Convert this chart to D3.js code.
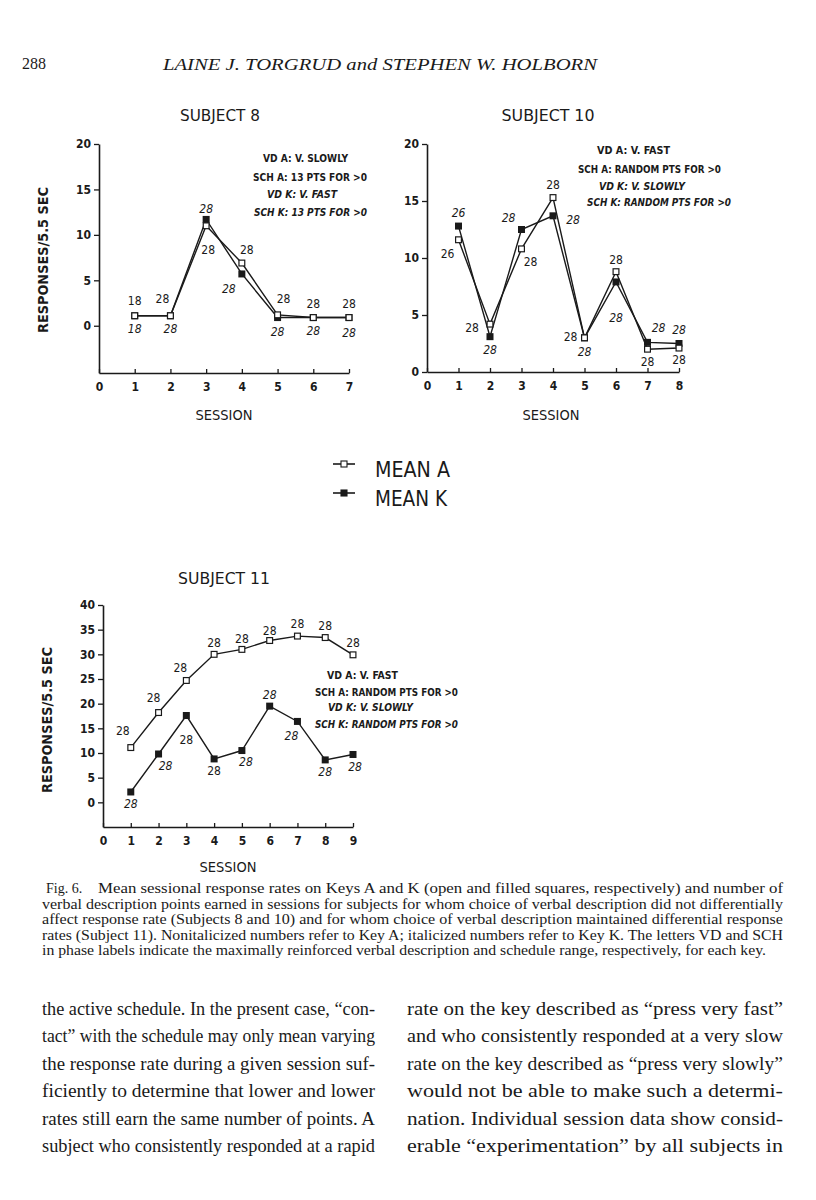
<!DOCTYPE html>
<html>
<head>
<meta charset="utf-8">
<script src="https://cdn.jsdelivr.net/npm/d3@7"></script>
<style>
body { margin: 0; background: #fff; }
</style>
</head>
<body>
<svg width="816" height="1200"></svg>
<script>
// ---- data ----
var s8_sessions = [1, 2, 3, 4, 5, 6, 7];
var s8_meanA = [1.1, 1.1, 11.0, 6.9, 1.2, 0.9, 0.9];
var s8_meanK = [1.1, 1.1, 11.7, 5.7, 0.9, 0.9, 0.9];
var s8_ptsA = ["18", "28", "28", "28", "28", "28", "28"];
var s8_ptsK = ["18", "28", "28", "28", "28", "28", "28"];
var s8_phase = ["VD A: V. SLOWLY", "SCH A: 13 PTS FOR >0", "VD K: V. FAST", "SCH K: 13 PTS FOR >0"];

var s10_sessions = [1, 2, 3, 4, 5, 6, 7, 8];
var s10_meanA = [11.6, 4.2, 10.8, 15.3, 3.0, 8.8, 2.0, 2.1];
var s10_meanK = [12.8, 3.1, 12.5, 13.7, 3.0, 7.9, 2.6, 2.5];
var s10_ptsA = ["26", "28", "28", "28", "28", "28", "28", "28"];
var s10_ptsK = ["26", "28", "28", "28", "28", "28", "28", "28"];
var s10_phase = ["VD A: V. FAST", "SCH A: RANDOM PTS FOR >0", "VD K: V. SLOWLY", "SCH K: RANDOM PTS FOR >0"];

var s11_sessions = [1, 2, 3, 4, 5, 6, 7, 8, 9];
var s11_meanA = [11.1, 18.2, 24.7, 30.0, 31.0, 32.8, 33.7, 33.4, 29.9];
var s11_meanK = [2.1, 9.8, 17.6, 8.8, 10.5, 19.5, 16.4, 8.6, 9.7];
var s11_ptsA = ["28", "28", "28", "28", "28", "28", "28", "28", "28"];
var s11_ptsK = ["28", "28", "28", "28", "28", "28", "28", "28", "28"];
var s11_kItalic = [true, true, false, false, true, true, true, true, true];
var s11_phase = ["VD A: V. FAST", "SCH A: RANDOM PTS FOR >0", "VD K: V. SLOWLY", "SCH K: RANDOM PTS FOR >0"];

var ticks20 = [0, 5, 10, 15, 20];
var ticks40 = [0, 5, 10, 15, 20, 25, 30, 35, 40];
var legendLabels = ["MEAN A", "MEAN K"];

// label placement (px from the marker), one per point
var s8_offA = [[0,-15],[-8,-17],[2,24],[5,-13],[6,-16],[0,-14],[0,-14]];
var s8_offK = [[0,13],[0,13],[0,-11],[-13,15],[0,14],[0,13],[0,15]];
var s10_offA = [[-11,14],[-18,4],[9,13],[0,-13],[-14,-1],[0,-12],[0,12],[0,12]];
var s10_offK = [[0,-13],[0,13],[-13,-12],[20,4],[0,14],[0,36],[11,-15],[0,-14]];
var s11_offA = [[-8,-17],[-5,-15],[-6,-13],[0,-12],[0,-11],[0,-10],[0,-12],[0,-12],[0,-12]];
var s11_offK = [[0,12],[7,12],[0,24],[0,12],[4,11],[0,-11],[-6,14],[0,12],[2,12]];

var captionLines = [
    "Mean sessional response rates on Keys A and K (open and filled squares, respectively) and number of",
    "verbal description points earned in sessions for subjects for whom choice of verbal description did not differentially",
    "affect response rate (Subjects 8 and 10) and for whom choice of verbal description maintained differential response",
    "rates (Subject 11). Nonitalicized numbers refer to Key A; italicized numbers refer to Key K. The letters VD and SCH",
    "in phase labels indicate the maximally reinforced verbal description and schedule range, respectively, for each key."
];
var leftColumn = [
    "the active schedule. In the present case, \u201Ccon-",
    "tact\u201D with the schedule may only mean varying",
    "the response rate during a given session suf-",
    "ficiently to determine that lower and lower",
    "rates still earn the same number of points. A",
    "subject who consistently responded at a rapid"
];
var rightColumn = [
    "rate on the key described as \u201Cpress very fast\u201D",
    "and who consistently responded at a very slow",
    "rate on the key described as \u201Cpress very slowly\u201D",
    "would not be able to make such a determi-",
    "nation. Individual session data show consid-",
    "erable \u201Cexperimentation\u201D by all subjects in"
];

var ink = "#1a1a1a";
var chartFont = "'DejaVu Sans Condensed', 'DejaVu Sans', sans-serif";
var serif = "'Liberation Serif', 'DejaVu Serif', serif";

var svg = d3.select("svg");

// ---- running head ----
svg.append("text").attr("x", 22).attr("y", 69)
    .style("font-family", serif).style("font-size", "16px").attr("fill", ink)
    .text("288");
svg.append("text").attr("x", 163).attr("y", 70)
    .style("font-family", serif).style("font-size", "17px").style("font-style", "italic").attr("fill", ink)
    .attr("textLength", 434).attr("lengthAdjust", "spacingAndGlyphs")
    .text("LAINE J. TORGRUD and STEPHEN W. HOLBORN");

function draw_panel(p) {
    var x = d3.scaleLinear().domain(p.xDomain).range(p.xRange);
    var y = d3.scaleLinear().domain(p.yDomain).range(p.yRange);
    var g = svg.append("g");

    var ya = g.append("g")
        .attr("transform", "translate(" + p.xRange[0] + ",0)")
        .call(d3.axisLeft(y).tickValues(p.yTicks).tickSize(5).tickSizeOuter(0).tickPadding(3));
    var xa = g.append("g")
        .attr("transform", "translate(0," + p.yRange[0] + ")")
        .call(d3.axisBottom(x).ticks(p.xDomain[1]).tickSizeInner(-4).tickSizeOuter(0).tickPadding(9));
    [ya, xa].forEach(function (a) {
        a.select(".domain").attr("stroke", ink).attr("stroke-width", 1.6);
        a.selectAll(".tick line").attr("stroke", ink).attr("stroke-width", 1.3);
        a.selectAll(".tick text").attr("fill", ink)
            .style("font-family", chartFont).style("font-size", "12px").style("font-weight", "bold");
    });

    if (p.yLabel) {
        g.append("text")
            .attr("transform", "translate(" + p.yLabel[0] + "," + p.yLabel[1] + ") rotate(-90)")
            .attr("text-anchor", "middle").attr("dy", "0.35em")
            .style("font-family", chartFont).style("font-size", "14px").style("font-weight", "bold")
            .attr("textLength", 146).attr("lengthAdjust", "spacingAndGlyphs")
            .attr("fill", ink).text("RESPONSES/5.5 SEC");
    }
    g.append("text").attr("x", p.title[0]).attr("y", p.title[1])
        .attr("text-anchor", "middle").attr("dy", "0.35em")
        .style("font-family", chartFont).style("font-size", "16px")
        .attr("textLength", p.title[2]).attr("lengthAdjust", "spacingAndGlyphs")
        .attr("fill", ink).text(p.titleText);
    g.append("text").attr("x", p.session[0]).attr("y", p.session[1])
        .attr("text-anchor", "middle").attr("dy", "0.35em")
        .style("font-family", chartFont).style("font-size", "14px")
        .attr("textLength", 57).attr("lengthAdjust", "spacingAndGlyphs")
        .attr("fill", ink).text("SESSION");

    // phase labels
    g.selectAll(".phase").data(p.phase).enter().append("text")
        .attr("x", function (d, i) { return p.phasePos[i][0]; })
        .attr("y", function (d, i) { return p.phasePos[i][1]; })
        .attr("dy", "0.35em")
        .attr("textLength", function (d, i) { return p.phasePos[i][2]; })
        .attr("lengthAdjust", "spacingAndGlyphs")
        .style("font-family", chartFont).style("font-size", "11px").style("font-weight", "bold")
        .style("font-style", function (d, i) { return i >= 2 ? "italic" : "normal"; })
        .attr("fill", ink).text(function (d) { return d; });

    var line = d3.line()
        .x(function (d) { return x(d[0]); })
        .y(function (d) { return y(d[1]); });
    var ptsA = p.sessions.map(function (s, i) { return [s, p.meanA[i]]; });
    var ptsK = p.sessions.map(function (s, i) { return [s, p.meanK[i]]; });

    [ptsA, ptsK].forEach(function (pts) {
        g.append("path").datum(pts).attr("d", line)
            .attr("fill", "none").attr("stroke", ink).attr("stroke-width", 1.4);
    });
    var sq = 7;
    g.selectAll(".mk").data(ptsK).enter().append("rect")
        .attr("x", function (d) { return x(d[0]) - sq / 2; })
        .attr("y", function (d) { return y(d[1]) - sq / 2; })
        .attr("width", sq).attr("height", sq).attr("fill", ink);
    g.selectAll(".ma").data(ptsA).enter().append("rect")
        .attr("x", function (d) { return x(d[0]) - sq / 2 + 0.6; })
        .attr("y", function (d) { return y(d[1]) - sq / 2 + 0.6; })
        .attr("width", sq - 1.2).attr("height", sq - 1.2)
        .attr("fill", "#fff").attr("stroke", ink).attr("stroke-width", 1.2);

    // points earned
    function pts_labels(pts, txt, off, italic) {
        g.selectAll(null).data(pts).enter().append("text")
            .attr("x", function (d, i) { return x(d[0]) + off[i][0]; })
            .attr("y", function (d, i) { return y(d[1]) + off[i][1]; })
            .attr("text-anchor", "middle").attr("dy", "0.36em")
            .style("font-family", chartFont).style("font-size", "12px")
            .style("font-style", function (d, i) { return italic[i] ? "italic" : "normal"; })
            .attr("fill", ink).text(function (d, i) { return txt[i]; });
    }
    pts_labels(ptsA, p.ptsA, p.offA, p.sessions.map(function () { return false; }));
    pts_labels(ptsK, p.ptsK, p.offK, p.kItalic || p.sessions.map(function () { return true; }));
}

draw_panel({
    xDomain: [0, 7], xRange: [99, 349], yDomain: [-5.2, 20], yRange: [373, 144], yTicks: ticks20,
    sessions: s8_sessions, meanA: s8_meanA, meanK: s8_meanK, ptsA: s8_ptsA, ptsK: s8_ptsK,
    offA: s8_offA, offK: s8_offK,
    yLabel: [43, 260], titleText: "SUBJECT 8", title: [220, 115, 80], session: [224, 415],
    phase: s8_phase, phasePos: [[263, 158, 85], [253, 177, 114], [267, 194, 70], [254, 212, 113]]
});
draw_panel({
    xDomain: [0, 8], xRange: [427, 679], yDomain: [0, 20], yRange: [372, 144], yTicks: ticks20,
    sessions: s10_sessions, meanA: s10_meanA, meanK: s10_meanK, ptsA: s10_ptsA, ptsK: s10_ptsK,
    offA: s10_offA, offK: s10_offK,
    yLabel: null, titleText: "SUBJECT 10", title: [548, 115, 93], session: [551, 415],
    phase: s10_phase, phasePos: [[597, 150, 73], [578, 169, 143], [599, 186, 86], [587, 202, 144]]
});
draw_panel({
    xDomain: [0, 9], xRange: [103, 353], yDomain: [-5, 40], yRange: [827, 605], yTicks: ticks40,
    sessions: s11_sessions, meanA: s11_meanA, meanK: s11_meanK, ptsA: s11_ptsA, ptsK: s11_ptsK,
    offA: s11_offA, offK: s11_offK, kItalic: s11_kItalic,
    yLabel: [47, 720], titleText: "SUBJECT 11", title: [224, 578, 92], session: [228, 867],
    phase: s11_phase, phasePos: [[327, 675, 71], [315, 692, 143], [328, 707, 85], [315, 724, 143]]
});

// ---- legend ----
var lg = svg.append("g");
legendLabels.forEach(function (lab, i) {
    var cy = [464, 493][i];
    lg.append("line").attr("x1", 333).attr("x2", 355).attr("y1", cy).attr("y2", cy)
        .attr("stroke", ink).attr("stroke-width", 1.6);
    lg.append("rect").attr("x", 341).attr("y", cy - 3).attr("width", 6).attr("height", 6)
        .attr("fill", i === 0 ? "#fff" : ink).attr("stroke", ink).attr("stroke-width", 1.1);
    lg.append("text").attr("x", 375).attr("y", cy + 13)
        .style("font-family", chartFont).style("font-size", "22px")
        .attr("textLength", i === 0 ? 75 : 72).attr("lengthAdjust", "spacingAndGlyphs")
        .attr("fill", ink).text(lab);
});

// ---- caption and body text, set to the column widths ----
var cap = svg.append("g").style("font-family", serif).style("font-size", "14px").attr("fill", ink);
cap.append("text").attr("x", 46).attr("y", 893).text("Fig. 6.");
cap.selectAll(".cl").data(captionLines).enter().append("text")
    .attr("x", function (d, i) { return i === 0 ? 98 : 42; })
    .attr("y", function (d, i) { return 893 + i * 15.5; })
    .attr("textLength", function (d, i) { return i === 0 ? 783 - 98 : (i === 4 ? 724 : 741); })
    .attr("lengthAdjust", "spacingAndGlyphs")
    .text(function (d) { return d; });

var body = svg.append("g").style("font-family", serif).style("font-size", "19px").attr("fill", ink);
[[leftColumn, 42, 333], [rightColumn, 407, 376]].forEach(function (col) {
    body.selectAll(null).data(col[0]).enter().append("text")
        .attr("x", col[1])
        .attr("y", function (d, i) { return 1015 + i * 27.4; })
        .attr("textLength", col[2]).attr("lengthAdjust", "spacingAndGlyphs")
        .text(function (d) { return d; });
});
</script>
</body>
</html>
